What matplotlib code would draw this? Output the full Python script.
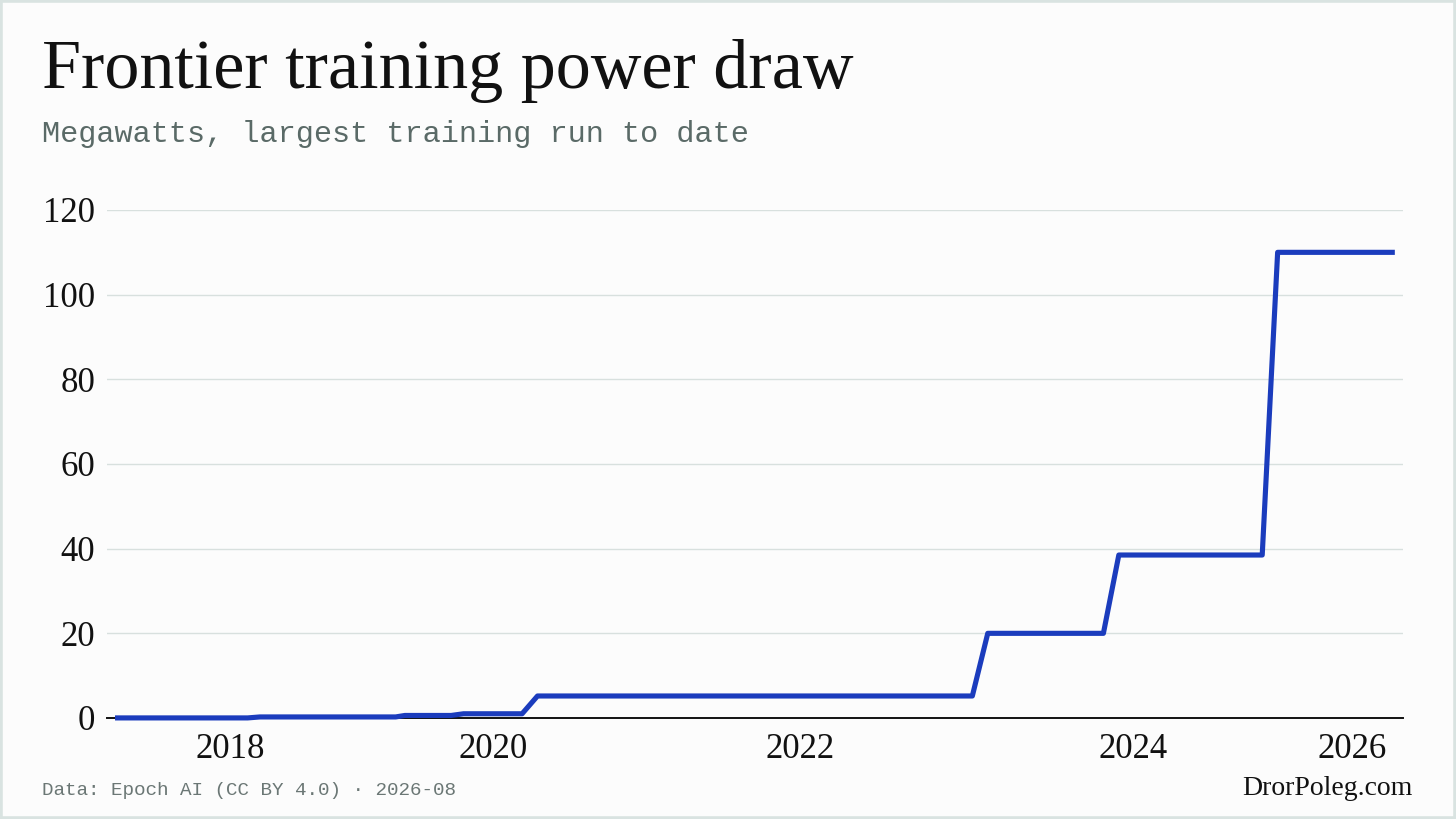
import matplotlib.pyplot as plt
from matplotlib.patches import Rectangle

# step vertices, x = position along the release index, y = megawatts
run_pos = [0.0, 8.6, 9.4, 18.2, 18.8, 21.8, 22.6, 26.4, 27.4,
           55.6, 56.6, 64.1, 65.1, 74.4, 75.4, 83.0]
power_mw = [0.02, 0.02, 0.25, 0.25, 0.6, 0.6, 1.0, 1.0, 5.2,
            5.2, 20.0, 20.0, 38.5, 38.5, 110.0, 110.0]

year_pos = [7.5, 24.5, 44.4, 66.0, 80.2]
year_labels = ['2018', '2020', '2022', '2024', '2026']
y_ticks = [0, 20, 40, 60, 80, 100, 120]

W, H = 1456, 819
bg = '#fcfcfc'
serif = ['Liberation Serif', 'DejaVu Serif']
mono = ['Liberation Mono', 'DejaVu Sans Mono']

fig = plt.figure(figsize=(W / 100, H / 100), dpi=100, facecolor=bg)
fig.patches.append(Rectangle((0, 0), 1, 1, transform=fig.transFigure,
                             facecolor='none', edgecolor='#d9e3e1', linewidth=4))

ax = fig.add_axes([107 / W, (H - 718) / H, (1403 - 107) / W, 508 / H])
ax.set_facecolor(bg)
ax.plot(run_pos, power_mw, color='#1b3cbd', linewidth=3.7,
        solid_joinstyle='round', solid_capstyle='butt', clip_on=False, zorder=3)

ax.set_xlim(-0.52, 83.53)
ax.set_ylim(0, 120)
ax.set_yticks(y_ticks)
ax.set_xticks(year_pos)
ax.set_xticklabels(year_labels)
for t in ax.get_xticklabels() + ax.get_yticklabels():
    t.set_fontfamily(serif)
    t.set_fontsize(25)
    t.set_color('#111111')
ax.tick_params(axis='both', length=0)
ax.tick_params(axis='y', pad=8.6)
ax.tick_params(axis='x', pad=10.5)
ax.grid(axis='y', color='#d8e0de', linewidth=1)
ax.set_axisbelow(True)
for s in ['top', 'right', 'left']:
    ax.spines[s].set_visible(False)
ax.spines['bottom'].set_color('#111111')
ax.spines['bottom'].set_linewidth(1.4)
ax.spines['bottom'].set_zorder(2)

fig.text(42 / W, 1 - 88 / H, 'Frontier training power draw', fontfamily=serif,
         fontsize=50.5, color='#111111', va='baseline', ha='left')
fig.text(42 / W, 1 - 142 / H, 'Megawatts, largest training run to date', fontfamily=mono,
         fontsize=21.8, color='#5a6a67', va='baseline', ha='left')
fig.text(42 / W, 1 - 795 / H, 'Data: Epoch AI (CC BY 4.0) · 2026-08', fontfamily=mono,
         fontsize=13.9, color='#6b7775', va='baseline', ha='left')
fig.text(1413 / W, 1 - 795 / H, 'DrorPoleg.com', fontfamily=serif,
         fontsize=20, color='#111111', va='baseline', ha='right')

fig.savefig('out.png', dpi=100, facecolor=bg)
